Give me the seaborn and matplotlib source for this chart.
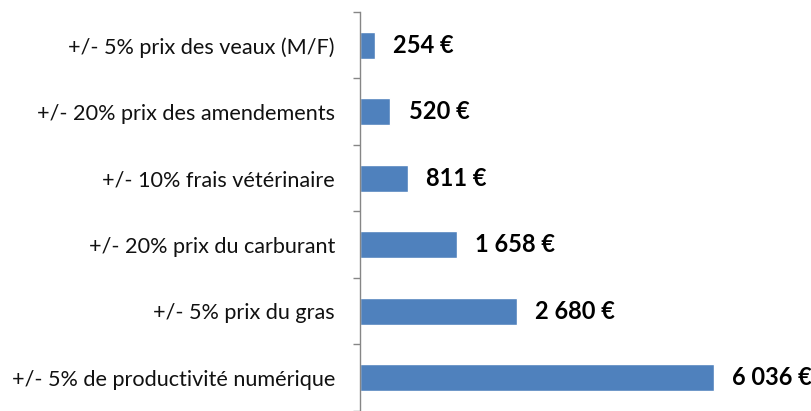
import numpy as np
import matplotlib
matplotlib.use("Agg")
import matplotlib.pyplot as plt
import pandas as pd
import seaborn as sns

# données (du haut vers le bas)
categories = [
    "+/- 5% prix des veaux (M/F)",
    "+/- 20% prix des amendements",
    "+/- 10% frais vétérinaire",
    "+/- 20% prix du carburant",
    "+/- 5% prix du gras",
    "+/- 5% de productivité numérique",
]
valeurs = [254, 520, 811, 1658, 2680, 6036]
etiquettes = ["254 €", "520 €", "811 €", "1 658 €", "2 680 €", "6 036 €"]

df = pd.DataFrame({"categorie": categories, "valeur": valeurs})

sns.set_theme(style="white")
plt.rcParams["font.family"] = ["Lato", "DejaVu Sans"]

fig = plt.figure(figsize=(8.11, 4.11), dpi=100)
ax = fig.add_axes([360 / 811, 0.0, 451 / 811, 399 / 411])

sns.barplot(data=df, x="valeur", y="categorie", color="#4F81BD",
            saturation=1, width=0.4, ax=ax)

ax.set_xlim(0, 7700)
ax.set_ylim(5.5, -0.5)

for i, (v, txt) in enumerate(zip(valeurs, etiquettes)):
    ax.annotate(txt, xy=(v, i), xytext=(13, 0), textcoords="offset points",
                ha="left", va="center", fontsize=17, fontweight="bold",
                color="black")

# axe vertical avec graduations entre les catégories
ax.set_yticks(np.arange(len(categories)))
ax.set_yticklabels(categories, fontsize=15.6, color="#111111")
ax.set_yticks(np.arange(len(categories) + 1) - 0.5, minor=True)
ax.tick_params(axis="y", which="major", length=0, pad=18)
ax.tick_params(axis="y", which="minor", length=5, width=1, color="#868686",
               direction="out", left=True)
ax.set_xticks([])
ax.set_xlabel("")
ax.set_ylabel("")

for side in ["top", "right", "bottom"]:
    ax.spines[side].set_visible(False)
ax.spines["left"].set_color("#868686")
ax.spines["left"].set_linewidth(1)

fig.savefig("out.png", dpi=100)
